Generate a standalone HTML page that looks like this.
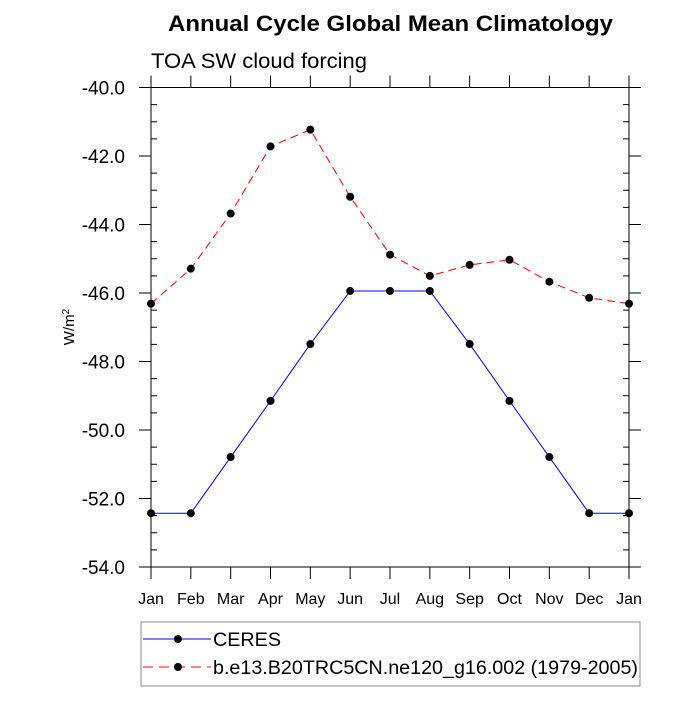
<!DOCTYPE html>
<html><head><meta charset="utf-8"><style>body{margin:0;background:#fff}svg{font-family:"Liberation Sans",sans-serif}</style></head>
<body>
<svg id="c" width="700" height="700">
<text x="168" y="31" font-size="22" font-weight="bold" textLength="445" lengthAdjust="spacingAndGlyphs">Annual Cycle Global Mean Climatology</text>
<text x="151" y="68" font-size="21" textLength="216" lengthAdjust="spacingAndGlyphs">TOA SW cloud forcing</text>
<text transform="translate(74,327) rotate(-90)" font-size="15" text-anchor="middle">W/m<tspan dy="-5" font-size="10">2</tspan></text>
<g id="axes"></g><g id="series"></g>
<rect x="141" y="622" width="499" height="64" fill="none" stroke="#888"/>
<g>
<line x1="143" y1="639" x2="211" y2="639" stroke="#00f" stroke-width="1"/><circle cx="178" cy="639" r="4" fill="#000"/>
<text x="213" y="646" font-size="19" textLength="68" lengthAdjust="spacingAndGlyphs">CERES</text></g>
<g>
<line x1="143" y1="667" x2="211" y2="667" stroke="#f00" stroke-width="1" stroke-dasharray="10,6"/><circle cx="178" cy="667" r="4" fill="#000"/>
<text x="213" y="674" font-size="19" textLength="425" lengthAdjust="spacingAndGlyphs">b.e13.B20TRC5CN.ne120_g16.002 (1979-2005)</text></g>
</svg>
<script>
const months=["Jan","Feb","Mar","Apr","May","Jun","Jul","Aug","Sep","Oct","Nov","Dec","Jan"];
const ceres=[-52.43,-52.43,-50.79,-49.15,-47.49,-45.94,-45.94,-45.94,-47.49,-49.15,-50.79,-52.43,-52.43];
const model=[-46.31,-45.29,-43.68,-41.72,-41.23,-43.19,-44.88,-45.5,-45.18,-45.03,-45.67,-46.14,-46.31];
const yTicks=[-40,-42,-44,-46,-48,-50,-52,-54];
const L=151,R=629,T=87.5,B=567,ymin=-54,ymax=-40;
const NS="http://www.w3.org/2000/svg";
const xs=i=>L+(R-L)*i/(months.length-1);
const ys=v=>B-(v-ymin)/(ymax-ymin)*(B-T);
function mk(t,a,p){const e=document.createElementNS(NS,t);for(const k in a)e.setAttribute(k,a[k]);p.appendChild(e);return e;}
const ax=document.getElementById('axes');
const fr=mk('rect',{x:L,y:T,width:R-L,height:B-T,fill:'none',stroke:'#000','stroke-width':1},ax);


months.forEach((m,i)=>{const x=xs(i);
mk('line',{x1:x,y1:B,x2:x,y2:B+12,stroke:'#000'},ax);mk('line',{x1:x,y1:T,x2:x,y2:T-12,stroke:'#000'},ax);
const t=mk('text',{x:x,y:B+37,'font-size':16,'text-anchor':'middle'},ax);t.textContent=m;

});
for(let v=ymin;v<=ymax+1e-9;v+=0.5){const y=ys(v);const maj=Math.abs(v/2-Math.round(v/2))<1e-9;
if(maj){mk('line',{x1:L-12,y1:y,x2:L,y2:y,stroke:'#000'},ax);mk('line',{x1:R,y1:y,x2:R+12,y2:y,stroke:'#000'},ax);}
else{mk('line',{x1:L,y1:y,x2:L+6,y2:y,stroke:'#000'},ax);mk('line',{x1:R-6,y1:y,x2:R,y2:y,stroke:'#000'},ax);}}
yTicks.forEach(v=>{const t=mk('text',{x:L-26,y:ys(v)+7,'font-size':19,'text-anchor':'end'},ax);t.textContent=v.toFixed(1);

});
const sg=document.getElementById('series');
function draw(d,col,dash,name){const p=mk('polyline',{points:d.map((v,i)=>xs(i)+','+ys(v)).join(' '),fill:'none',stroke:col,'stroke-width':1,'stroke-dasharray':dash},sg);


d.forEach((v,i)=>{const c=mk('circle',{cx:xs(i),cy:ys(v),r:4,fill:'#000'},sg);

});}
draw(ceres,'#00f','none','ceres');
draw(model,'#f00','8,5','model');
</script>
</body></html>
